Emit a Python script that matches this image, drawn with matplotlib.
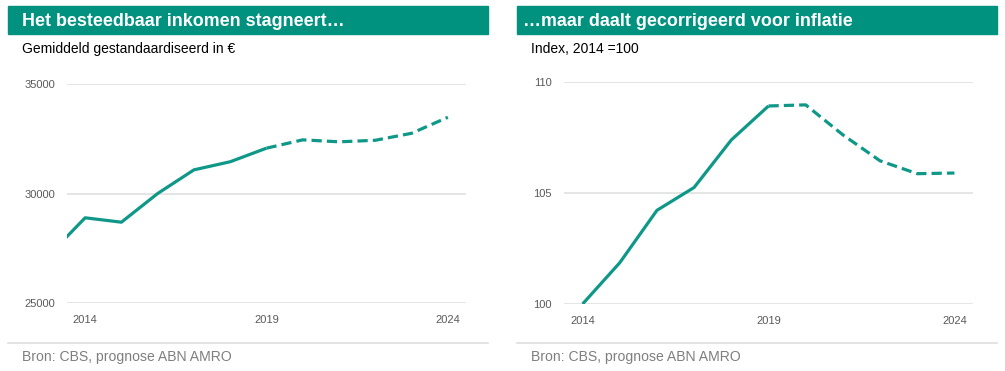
import numpy as np
import matplotlib
matplotlib.use('Agg')
import matplotlib.pyplot as plt
from matplotlib.patches import Rectangle
from matplotlib.lines import Line2D

plt.rcParams['font.family'] = ['Liberation Sans', 'DejaVu Sans']

# ---------------------------------------------------------------------------
# Data
# ---------------------------------------------------------------------------
years = [2013, 2014, 2015, 2016, 2017, 2018, 2019, 2020, 2021, 2022, 2023, 2024]
income = [27180, 28890, 28690, 30000, 31080, 31450, 32070, 32450, 32360, 32430, 32750, 33480]

index_years = [2014, 2015, 2016, 2017, 2018, 2019, 2020, 2021, 2022, 2023, 2024]
real_index = [100.0, 101.86, 104.22, 105.25, 107.39, 108.92, 108.97, 107.62, 106.45, 105.87, 105.9]

last_actual = 2019
xticks = [2014, 2019, 2024]

titles = ['Het besteedbaar inkomen stagneert…', '…maar daalt gecorrigeerd voor inflatie']
subtitles = ['Gemiddeld gestandaardiseerd in €', 'Index, 2014 =100']
source = 'Bron: CBS, prognose ABN AMRO'

# ---------------------------------------------------------------------------
# Style
# ---------------------------------------------------------------------------
W, H = 1005, 371
HEADER = '#00927f'
LINE = '#0f9888'
GRID = '#dedede'
TICK = '#595959'
FOOT = '#7f7f7f'

fig = plt.figure(figsize=(W / 100, H / 100), dpi=100)


def px(x0, y0, x1, y1):
    """Convert pixel box (top-left origin) to figure fraction rect."""
    return [x0 / W, 1 - y1 / H, (x1 - x0) / W, (y1 - y0) / H]


def draw_panel(ax, x, y, yticks, ylim):
    x = np.array(x)
    y = np.array(y)
    solid = x <= last_actual
    dashed = x >= last_actual
    ax.plot(x[solid], y[solid], color=LINE, lw=2.3, solid_capstyle='butt',
            solid_joinstyle='round')
    ax.plot(x[dashed], y[dashed], color=LINE, lw=2.3, dashes=(3.2, 1.6),
            dash_capstyle='butt', dash_joinstyle='round')
    ax.set_xlim(2013.5, 2024.5)
    ax.set_ylim(*ylim)
    ax.set_yticks(yticks)
    ax.set_xticks(xticks)
    ax.grid(axis='y', color=GRID, lw=1.1)
    ax.set_axisbelow(True)
    for s in ax.spines.values():
        s.set_visible(False)
    ax.tick_params(axis='both', length=0, labelsize=8, colors=TICK)
    ax.tick_params(axis='y', pad=8.6)
    ax.tick_params(axis='x', pad=8.5)


ax1 = fig.add_axes(px(67, 84, 466, 303))
draw_panel(ax1, years, income, [25000, 30000, 35000], (25000, 35000))

ax2 = fig.add_axes(px(564, 82, 973, 304))
draw_panel(ax2, index_years, real_index, [100, 105, 110], (100, 110))

# headers, subtitles, footer
panels = [(8, 488, 14), (517, 997, 6)]
for (x0, x1, tpad), title, sub in zip(panels, titles, subtitles):
    fig.patches.append(Rectangle((x0 / W, 1 - 34 / H), (x1 - x0) / W, 28 / H,
                                 transform=fig.transFigure, color=HEADER,
                                 zorder=0))
    fig.text((x0 + tpad) / W, 1 - 21 / H, title, color='white', fontsize=12.9,
             fontweight='bold', va='center', ha='left')
    fig.text((x0 + 14) / W, 1 - 49 / H, sub, color='black', fontsize=10,
             va='center', ha='left')
    fig.add_artist(Line2D([x0 / W, x1 / W], [1 - 342.5 / H, 1 - 342.5 / H],
                          color=GRID, lw=1.2, transform=fig.transFigure))
    fig.text((x0 + 14) / W, 1 - 357.5 / H, source, color=FOOT, fontsize=10.1,
             va='center', ha='left')

fig.savefig('out.png', dpi=100)
